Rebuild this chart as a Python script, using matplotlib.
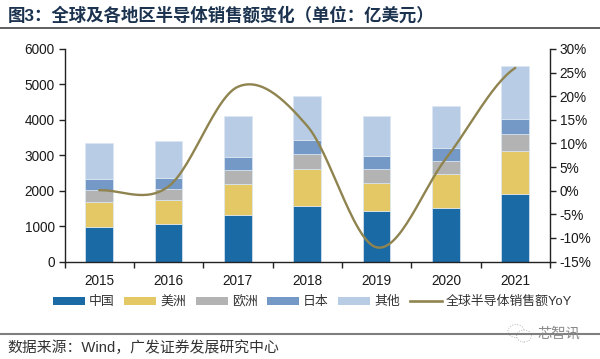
import numpy as np
import matplotlib
matplotlib.use("Agg")
import matplotlib.pyplot as plt
from matplotlib.lines import Line2D
from matplotlib.patches import Patch, Ellipse

plt.rcParams['font.family'] = ['Liberation Sans', 'Noto Sans CJK SC', 'DejaVu Sans']

years = ['2015', '2016', '2017', '2018', '2019', '2020', '2021']
china = [985, 1070, 1320, 1580, 1430, 1510, 1920]
america = [685, 660, 880, 1030, 790, 950, 1210]
europe = [340, 320, 390, 430, 390, 380, 470]
japan = [310, 320, 360, 380, 360, 370, 430]
other = [1030, 1020, 1170, 1240, 1130, 1190, 1500]
yoy = [0.1, 0.9, 22.0, 13.7, -12.0, 6.8, 26.0]

series_names = ['中国', '美洲', '欧洲', '日本', '其他']
line_name = '全球半导体销售额YoY'
title = '图3：全球及各地区半导体销售额变化（单位：亿美元）'
source = '数据来源：Wind，广发证券发展研究中心'
watermark = '芯智讯'
left_ticks = [0, 1000, 2000, 3000, 4000, 5000, 6000]
right_ticks = [-15, -10, -5, 0, 5, 10, 15, 20, 25, 30]
colors = ['#1a6aa5', '#e4c866', '#b3b3b3', '#7499c7', '#b8cde5']
line_color = '#8f8450'
ink = '#1a1a1a'


def smooth(values, per_seg=30):
    """Excel-like smoothed line through the values (Catmull-Rom)."""
    v = np.asarray(values, float)
    p = np.concatenate([[v[0]], v, [v[-1]]])
    xs, ys = [], []
    for i in range(len(v) - 1):
        t = np.linspace(0, 1, per_seg, endpoint=False)
        a, b, c, d = p[i], p[i + 1], p[i + 2], p[i + 3]
        ys.append(0.5 * (2 * b + (c - a) * t + (2 * a - 5 * b + 4 * c - d) * t ** 2
                         + (3 * b - a - 3 * c + d) * t ** 3))
        xs.append(i + t)
    xs.append([len(v) - 1])
    ys.append([v[-1]])
    return np.concatenate(xs), np.concatenate(ys)


W, H = 600, 359
fig = plt.figure(figsize=(W / 100, H / 100), dpi=100)
ax = fig.add_axes([64.5 / W, 1 - 261.5 / H, 485.5 / W, 212.5 / H])
x = np.arange(len(years))
bottom = np.zeros(len(years))
for vals, col in zip([china, america, europe, japan, other], colors):
    ax.bar(x, vals, 0.4, bottom=bottom, color=col, edgecolor='#dce7f3', linewidth=0.5)
    bottom += np.array(vals)

ax.set_xlim(-0.5, len(years) - 0.5)
ax.set_ylim(0, 6000)
ax.set_yticks(left_ticks)
ax.set_xticks(x)
ax.set_xticklabels(years)
ax.set_xticks(np.arange(-0.5, len(years)), minor=True)
ax.tick_params(axis='x', which='major', length=0, labelsize=9.8, pad=9, colors=ink)
ax.tick_params(axis='x', which='minor', length=4, width=1, color='#222222')
ax.tick_params(axis='y', length=4, width=1, labelsize=9.8, pad=3, color='#222222', labelcolor=ink)
ax.spines['top'].set_visible(False)
ax.spines['right'].set_visible(False)
for s in ('left', 'bottom'):
    ax.spines[s].set_color('#222222')
    ax.spines[s].set_linewidth(1)

ax2 = ax.twinx()
sx, sy = smooth(yoy)
ax2.plot(sx, sy, color=line_color, lw=1.7, solid_capstyle='round')
ax2.set_ylim(-15, 30)
ax2.set_yticks(right_ticks)
ax2.set_yticklabels([f'{t}%' for t in right_ticks])
ax2.tick_params(axis='y', length=4, width=1, labelsize=9.8, pad=3, color='#222222', labelcolor=ink)
ax2.spines['top'].set_visible(False)
ax2.spines['left'].set_visible(False)
ax2.spines['bottom'].set_visible(False)
ax2.spines['right'].set_color('#222222')
ax2.spines['right'].set_linewidth(1)

handles = [Patch(facecolor=c, edgecolor='none') for c in colors]
handles.append(Line2D([], [], color=line_color, lw=1.9))
leg = fig.legend(handles, series_names + [line_name], ncol=6, frameon=False,
                 loc='center', bbox_to_anchor=(312.5 / W, 1 - 302 / H), fontsize=9.3,
                 handlelength=2.48, handleheight=0.55, handletextpad=0.3, columnspacing=0.75,
                 labelcolor='#333333', borderpad=0, borderaxespad=0)

fig.add_artist(Line2D([0, 1], [1 - 28 / H] * 2, color='#444444', lw=1.2))
fig.add_artist(Line2D([0, 1], [1 - 333.5 / H] * 2, color='#7f7f7f', lw=1.5))
fig.text(8 / W, 1 - 15 / H, title, fontsize=12.55, fontweight='bold', color='#1c3350',
         ha='left', va='center')
fig.text(7 / W, 1 - 348 / H, source, fontsize=10.7, color='#333333', ha='left', va='center')
fig.text(537 / W, 1 - 334 / H, watermark, fontsize=10.3, color='#8a8a8a', ha='left', va='center')
for (cx, cy, w, h) in [(516, 331, 16, 13), (524, 336, 15, 12)]:
    fig.add_artist(Ellipse((cx / W, 1 - cy / H), w / W, h / H, transform=fig.transFigure,
                           facecolor='white', edgecolor='#b5b5b5', lw=0.7, ls=':'))

fig.savefig('out.png', dpi=100)
